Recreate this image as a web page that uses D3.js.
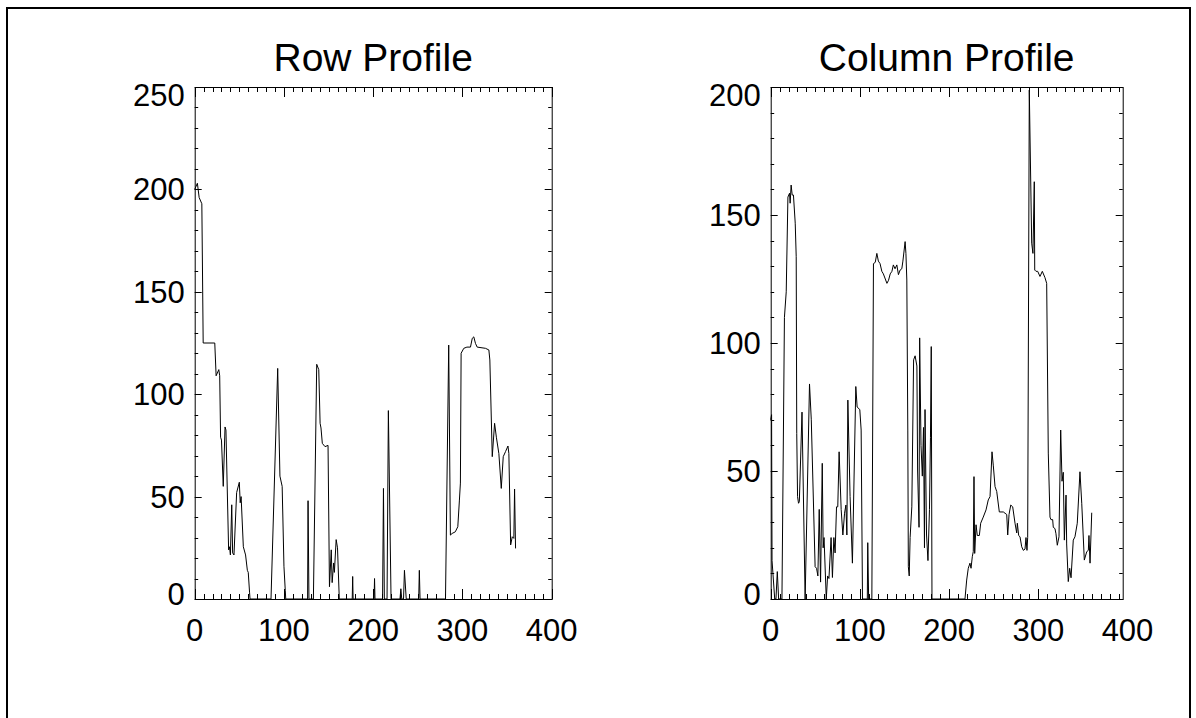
<!DOCTYPE html>
<html><head><meta charset="utf-8">
<script src="https://cdn.jsdelivr.net/npm/d3@7"></script>
<style>body{margin:0;background:#fff} svg{display:block}</style>
</head><body><svg id="c" width="1196" height="718"></svg>
<script>
const titles = ["Row Profile", "Column Profile"];
const xTicks = [0, 100, 200, 300, 400];
const rowYTicks = [0, 50, 100, 150, 200, 250];
const colYTicks = [0, 50, 100, 150, 200];

const rowX = [0,3,5,8,9.5,22.5,24,27,28,29,30,32,34,35,38,39,40,41.5,42.5,44,47,50,51,52,54.5,57,59,60,61.5,62,
  85.5,93,95.5,98,100,101.5,102,126.5,127,128,133,136.7,139,140.5,141.5,143,146,149.4,151,153,154,155.7,156.5,158.5,160,162,
  176.5,177,177.5,201,201.5,202,210.5,211.5,212.5,215.5,217,220,230,231,232,234,235,237,251,251.7,252.5,
  281,284.6,286.5,288.4,292,294.8,296.6,297.7,298.5,301.5,305,309,311,312.7,314.6,316.5,325.8,329.6,330.7,333.4,336,338,340.8,343.5,345.7,348.3,351,352,354,355.8,357.6,358.4,359.5];
const rowV = [200,203,196,193,125,125,109,112,109,79,77.6,55,84,82.5,24,25.5,21.5,46,22.5,21.5,52,57,47,50,25.5,21.5,14,13,3,0,
  0,112.6,60,55,16,4,0,0,48,0,0,114.6,112,85.8,83.5,76,74.4,75,6,24,8,17.6,13,29,25,0,
  0,11,0,0,10,0,0,54,0,0,92,0,0,5,0,0,14,0,0,14,0,
  0,124,31.2,32,32.8,35.3,48.3,56.6,120,122.4,123,123,127.3,128,124.8,123,122.4,121.6,116.7,69.5,85.8,79,71,54,69.5,72,74.7,71,26.4,30.4,29.6,53.7,24.7];

const colX = [0,1,1.5,4.5,5.9,7.4,8.9,12.6,15.4,17.4,19.3,21.1,21.8,22.9,24.1,25.5,27.5,28.6,29.2,30.1,31.2,32.1,35.1,38.6,43.5,45.5,49.8,51.4,52.9,54.4,55.9,57.8,58.8,59.8,62.3,63.8,65.3,67.7,69.2,70.8,72.2,73.8,75.2,76.7,79,80.9,82.8,84.3,85.4,86.5,89,91.6,95.4,96.9,99.9,101.4,102.9,
  108.3,108.8,109.8,113.4,115.2,117.2,119,120.7,122.6,124.6,126.3,130.3,132.1,134,135.9,137.5,139.4,141.4,143.2,145.1,147,148.2,150.7,151.6,152.6,153.7,154.3,155.3,156.3,158.2,160.2,161.9,163.9,164.7,166.3,167,168.5,170,171.3,172.4,173,174.7,176.3,178,179.1,180,180.8,
  217.8,219.7,221.5,223.4,224.6,226,227.1,227.9,228.7,230.2,231.6,233.9,235.4,238.3,241.4,243.9,245.9,248.1,249.6,251.5,253.4,256.3,260.8,262.7,264.6,265.7,267.2,269.1,271.3,273.9,275.8,276.5,278,279.5,281.4,283.2,285.1,286.2,287.3,288.1,
  289.9,292.6,294,295.5,296,297.4,299.3,301.9,304.5,307.5,309.4,311.2,313.1,314.2,316.1,316.8,318.7,319.8,321.3,323.2,325.1,326.6,328,329.2,331.1,331.8,333.6,335.2,336.7,339.2,341.1,343.7,346.7,348.7,351.6,354.3,356.1,356.8,358,359.9];
const colV = [70,72,15,0,0,10.7,0,0,110,120,157,158.5,154.6,161.7,157.8,157.8,146.8,133.7,64.7,40,37.4,38,73,0,84,70,12.6,12,9,35,6.6,53,20,24,0,9,8,24,8.4,24,18,36,36,57.5,35,25,33.5,36.7,25,77.7,40,14,83,75,74,66,0,
  0,22,0,0,131,131.5,135,132,131,128,127,123.3,124.5,127,128,130.5,129,130.5,126.7,128.5,129,132,139.6,135,124.6,66,12.6,9,24,36,93.4,95,91,50,28,102,60,48,67,20,74,25,15,35,63,98.6,0,
  0,7.4,12,14,12,16.5,18.5,47.8,17.8,29,24.8,24.8,29.6,32,34.8,38.7,40,57.5,52,43.9,42,34,34,33.5,33,25,33,36.7,36,29.6,25.8,29.6,24.8,24.3,20.4,19,19.5,24,19,24,
  198.8,139,135,163,128.5,128,128,126,128,125.5,123.3,57,32,31,31,28,27.5,25.5,21,24.3,66,46,49.5,23,40.6,21.5,6.8,12,8.3,23,24.3,29.6,49.7,37.4,15.2,18.5,19,24.8,14,33.7];

const FONT = '"Liberation Sans", Arial, Helvetica, sans-serif';
const svg = d3.select("#c");
svg.append("rect").attr("width", 1196).attr("height", 718).attr("fill", "#fff");
svg.append("rect").attr("x", 7).attr("y", 8).attr("width", 1183).attr("height", 730)
  .attr("fill", "none").attr("stroke", "#000").attr("stroke-width", 2);

function panel(box, frameRight, ymax, yTicks, xs, vs, title) {
  const x = d3.scaleLinear().domain([0, 400]).range([box.left, box.right]);
  const y = d3.scaleLinear().domain([0, ymax]).range([box.bottom, box.top]);
  const H = box.bottom - box.top, W = frameRight - box.left;
  const xl = 10, yl = 7;
  const xMinor = d3.range(0, 401, 10).filter(v => v % 100 !== 0 && x(v) < frameRight);
  const xMajor = xTicks.filter(v => x(v) <= frameRight + 0.5);
  const yMinor = d3.range(0, ymax + 1, 10).filter(v => v % 50 !== 0);
  const g = svg.append("g");

  // frame
  g.append("rect").attr("x", box.left + 0.5).attr("y", box.top + 0.5)
    .attr("width", frameRight - box.left).attr("height", H)
    .attr("fill", "none").attr("stroke", "#000").attr("stroke-width", 1);

  // x major ticks bottom & top
  const tickG = g.append("g").attr("stroke", "#000").attr("stroke-width", 1);
  xMajor.forEach(v => {
    const px = Math.round(x(v)) + 0.5;
    tickG.append("line").attr("x1", px).attr("x2", px).attr("y1", box.bottom).attr("y2", box.bottom - xl);
    tickG.append("line").attr("x1", px).attr("x2", px).attr("y1", box.top).attr("y2", box.top + xl);
  });
  xMinor.forEach(v => {
    const px = Math.round(x(v)) + 0.5;
    tickG.append("line").attr("x1", px).attr("x2", px).attr("y1", box.bottom).attr("y2", box.bottom - xl / 2);
    tickG.append("line").attr("x1", px).attr("x2", px).attr("y1", box.top).attr("y2", box.top + xl / 2);
  });
  yTicks.forEach(v => {
    const py = Math.round(y(v)) + 0.5;
    tickG.append("line").attr("x1", box.left).attr("x2", box.left + yl).attr("y1", py).attr("y2", py);
    tickG.append("line").attr("x1", frameRight).attr("x2", frameRight - yl).attr("y1", py).attr("y2", py);
  });
  yMinor.forEach(v => {
    const py = Math.round(y(v)) + 0.5;
    tickG.append("line").attr("x1", box.left).attr("x2", box.left + yl / 2).attr("y1", py).attr("y2", py);
    tickG.append("line").attr("x1", frameRight).attr("x2", frameRight - yl / 2).attr("y1", py).attr("y2", py);
  });

  // x labels
  g.append("g").selectAll("text").data(xTicks).join("text")
    .attr("x", d => x(d)).attr("y", box.bottom + 42)
    .attr("text-anchor", "middle").attr("font-family", FONT).attr("font-size", 31)
    .attr("fill", "#000").text(d => d);
  // y labels
  g.append("g").selectAll("text").data(yTicks).join("text")
    .attr("x", box.left - 10)
    .attr("y", (d, i) => y(d) + 11 + (i === 0 ? -5.5 : 0) + (i === yTicks.length - 1 ? 7.5 : 0))
    .attr("text-anchor", "end").attr("font-family", FONT).attr("font-size", 31)
    .attr("fill", "#000").text(d => d);
  // title
  g.append("text").attr("x", (box.left + frameRight) / 2).attr("y", 71)
    .attr("text-anchor", "middle").attr("font-family", FONT).attr("font-size", 39)
    .attr("fill", "#000").text(title);

  // data line
  const pts = xs.map((d, i) => [d, vs[i]]);
  g.append("path").datum(pts)
    .attr("d", d3.line().x(d => x(d[0])).y(d => y(d[1])))
    .attr("fill", "none").attr("stroke", "#000").attr("stroke-width", 1);
}

panel({left: 194.7, right: 551.7, top: 87, bottom: 599}, 551.7, 250, rowYTicks, rowX, rowV, titles[0]);
panel({left: 770.7, right: 1127.5, top: 87, bottom: 599}, 1122.7, 200, colYTicks, colX, colV, titles[1]);
</script></body></html>
